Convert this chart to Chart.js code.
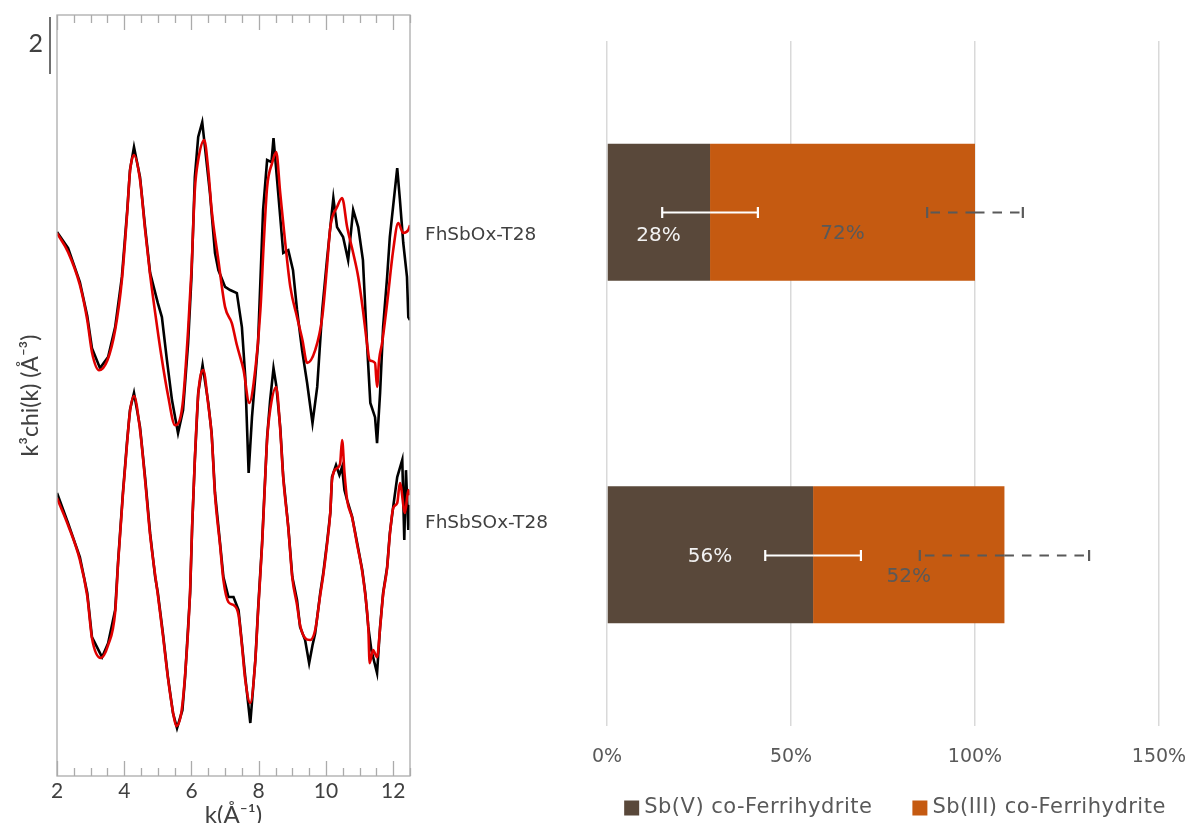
<!DOCTYPE html>
<html><head><meta charset="utf-8">
<script src="https://cdn.jsdelivr.net/npm/chart.js@4.4.1/dist/chart.umd.min.js"></script>
<style>
html,body{margin:0;padding:0;background:#fff;width:1191px;height:823px;overflow:hidden;}
#c1{position:absolute;left:0;top:0;}
#c2{position:absolute;left:420px;top:0;}
</style></head><body>
<canvas id="c1" width="420" height="823"></canvas>
<canvas id="c2" width="771" height="823"></canvas>
<script>
// ---------- Left panel: k3-weighted EXAFS spectra (data black, fit red) ----------
const K_MIN = 2, K_MAX = 12.5;
const Y_MIN = -17.05, Y_MAX = 9.65;
const SPECTRA_OFFSET = [0, -9];        // vertical stacking offset of the two samples
const SCALE_BAR = 2;                   // size of the y scale bar

const TOP_DATA = [[2.0,2.04],[2.33,1.47],[2.68,0.28],[2.9,-0.91],[3.04,-2.04],[3.28,-2.74],[3.52,-2.35],[3.73,-1.30],[3.93,0.46],[4.09,2.81],[4.17,4.21],[4.29,5.02],[4.47,3.96],[4.62,2.21],[4.77,0.60],[5.0,-0.46],[5.12,-0.95],[5.27,-2.46],[5.42,-3.86],[5.6,-5.02],[5.75,-4.21],[5.9,-1.86],[6.0,0.46],[6.1,3.96],[6.2,5.37],[6.32,5.89],[6.55,3.40],[6.7,1.30],[6.8,0.70],[7.0,0.11],[7.15,0.00],[7.35,-0.11],[7.5,-1.30],[7.6,-3.05],[7.7,-6.42],[7.8,-4.46],[7.98,-1.86],[8.13,2.81],[8.25,4.56],[8.38,4.49],[8.44,5.33],[8.58,3.40],[8.73,1.30],[8.88,1.40],[9.02,0.70],[9.14,-0.70],[9.29,-2.11],[9.44,-3.26],[9.6,-4.67],[9.74,-3.40],[9.89,-0.70],[10.03,1.05],[10.13,2.21],[10.22,3.23],[10.33,2.21],[10.51,1.86],[10.66,1.05],[10.81,2.81],[10.96,2.21],[11.1,1.05],[11.22,-1.86],[11.32,-3.96],[11.46,-4.46],[11.52,-5.37],[11.61,-3.61],[11.7,-1.30],[11.82,0.46],[11.9,1.86],[12.12,4.28],[12.2,3.16],[12.3,1.65],[12.41,0.46],[12.45,-0.95],[12.5,-1.05]];
const TOP_FIT = [[2.0,2.00],[2.33,1.33],[2.68,0.18],[2.9,-1.05],[3.04,-2.18],[3.25,-2.81],[3.5,-2.46],[3.73,-1.40],[3.93,0.35],[4.09,2.74],[4.17,4.14],[4.29,4.74],[4.47,3.86],[4.62,2.11],[4.77,0.53],[4.95,-1.05],[5.1,-2.28],[5.3,-3.68],[5.51,-4.74],[5.65,-4.56],[5.75,-3.86],[5.9,-1.40],[6.0,0.70],[6.1,3.51],[6.2,4.56],[6.38,5.26],[6.5,4.21],[6.6,2.81],[6.8,1.05],[7.0,-0.60],[7.2,-1.16],[7.35,-1.93],[7.55,-2.81],[7.72,-3.96],[7.85,-3.26],[8.05,-0.70],[8.15,1.65],[8.25,3.61],[8.4,4.46],[8.52,4.84],[8.64,3.40],[8.79,1.65],[8.94,0.11],[9.14,-0.95],[9.3,-1.75],[9.44,-2.56],[9.68,-2.11],[9.89,-0.95],[10.03,0.81],[10.13,2.21],[10.33,2.91],[10.48,3.23],[10.63,2.21],[10.81,1.30],[10.96,0.46],[11.1,-0.70],[11.22,-1.86],[11.3,-2.46],[11.46,-2.56],[11.52,-3.40],[11.58,-2.46],[11.67,-1.86],[11.82,-0.46],[12.0,1.40],[12.15,2.35],[12.3,2.00],[12.45,2.11],[12.5,2.28]];
const BOTTOM_DATA = [[2.0,1.88],[2.33,0.82],[2.68,-0.37],[2.9,-1.63],[3.04,-3.18],[3.34,-3.88],[3.52,-3.39],[3.73,-2.23],[3.82,-0.47],[3.96,1.88],[4.08,3.63],[4.17,4.79],[4.29,5.39],[4.47,4.19],[4.62,2.44],[4.77,0.47],[4.92,-1.07],[5.0,-1.63],[5.15,-3.04],[5.3,-4.58],[5.45,-5.84],[5.57,-6.37],[5.73,-5.74],[5.81,-4.58],[5.96,-1.63],[6.02,0.68],[6.1,3.04],[6.2,5.39],[6.33,6.37],[6.5,5.04],[6.6,3.98],[6.7,1.88],[6.85,0.12],[6.95,-1.07],[7.1,-1.77],[7.25,-1.77],[7.4,-2.23],[7.5,-3.39],[7.6,-4.58],[7.75,-6.19],[7.9,-3.98],[7.98,-2.23],[8.1,0.12],[8.17,1.88],[8.25,3.84],[8.34,5.14],[8.44,6.26],[8.52,5.67],[8.64,4.19],[8.73,2.44],[8.88,0.68],[9.0,-1.07],[9.14,-1.88],[9.23,-2.82],[9.38,-3.28],[9.5,-4.09],[9.6,-3.46],[9.68,-3.04],[9.83,-1.63],[9.92,-0.93],[10.03,0.12],[10.13,1.18],[10.18,2.44],[10.3,2.86],[10.4,2.51],[10.48,2.79],[10.55,1.98],[10.63,1.63],[10.78,1.04],[10.93,0.12],[11.08,-0.82],[11.17,-1.63],[11.26,-2.82],[11.35,-3.63],[11.52,-4.44],[11.61,-2.82],[11.7,-1.63],[11.82,-0.72],[11.9,0.47],[12.0,1.39],[12.12,2.44],[12.27,3.04],[12.33,0.23],[12.38,2.68],[12.45,0.58],[12.5,1.46]];
const BOTTOM_FIT = [[2.0,1.70],[2.33,0.75],[2.68,-0.47],[2.9,-1.74],[3.04,-3.21],[3.3,-3.91],[3.52,-3.46],[3.73,-2.30],[3.82,-0.54],[3.96,1.81],[4.08,3.56],[4.17,4.72],[4.29,5.28],[4.47,4.09],[4.62,2.33],[4.77,0.40],[4.92,-1.00],[5.0,-1.70],[5.15,-3.11],[5.3,-4.61],[5.45,-5.81],[5.55,-6.30],[5.7,-5.81],[5.81,-4.51],[5.96,-1.53],[6.02,0.75],[6.1,3.04],[6.2,5.32],[6.35,6.19],[6.5,4.96],[6.6,3.91],[6.7,1.81],[6.85,0.05],[6.95,-1.18],[7.1,-1.95],[7.25,-2.05],[7.4,-2.40],[7.5,-3.46],[7.6,-4.68],[7.75,-5.49],[7.9,-3.98],[7.98,-2.30],[8.1,0.05],[8.17,1.81],[8.25,3.74],[8.34,4.79],[8.52,5.60],[8.64,4.09],[8.73,2.40],[8.88,0.65],[9.0,-1.11],[9.14,-2.05],[9.23,-2.75],[9.38,-3.21],[9.53,-3.28],[9.68,-2.93],[9.83,-1.70],[9.92,-1.00],[10.03,0.05],[10.13,1.21],[10.18,2.33],[10.33,2.75],[10.42,2.90],[10.48,3.74],[10.55,2.60],[10.63,1.63],[10.78,1.00],[10.93,0.05],[11.08,-0.89],[11.17,-1.70],[11.26,-2.86],[11.3,-4.09],[11.4,-3.63],[11.52,-3.88],[11.61,-2.86],[11.7,-1.70],[11.82,-0.75],[11.9,0.40],[12.0,1.35],[12.12,1.53],[12.2,2.23],[12.35,1.18],[12.45,1.98],[12.5,1.81]];

// ---------- Right panel: linear combination fit fractions ----------
const SAMPLES = ['FhSbOx-T28', 'FhSbSOx-T28'];
const SERIES = ['Sb(V) co-Ferrihydrite', 'Sb(III) co-Ferrihydrite'];
const SB_V = [28, 56];
const SB_III = [72, 52];
const SB_V_ERR = [13, 13];
const SB_III_ERR = [13, 23];
const X_TICK_STEP = 50, X_MAX = 150;

const FONT = "Lato, 'Open Sans', sans-serif";
const FONT_R = "'DejaVu Sans', sans-serif";
const TXT = '#404040';

// ===== left chart =====
const toXY = (arr, off) => arr.map(p => ({x: p[0], y: p[1] + off}));
const leftPlugin = {
  id: 'leftFrame',
  afterDraw(chart) {
    const {ctx, chartArea: a, scales: {x, y}} = chart;
    ctx.save();
    ctx.strokeStyle = '#ABABAB';
    ctx.lineWidth = 1.3;
    ctx.strokeRect(a.left, a.top, a.right - a.left, a.bottom - a.top);
    for (let k = K_MIN; k <= K_MAX + 1e-9; k += 0.5) {
      const px = Math.round(x.getPixelForValue(k)) + 0.5;
      const major = Math.abs(k % 2) < 1e-9;
      const len = major ? 15 : 8;
      ctx.beginPath();
      ctx.moveTo(px, a.bottom); ctx.lineTo(px, a.bottom - len);
      ctx.moveTo(px, a.top); ctx.lineTo(px, a.top + len);
      ctx.stroke();
    }
    // scale bar
    const yTop = y.getPixelForValue(Y_MAX) + 2;
    const yBot = yTop + (y.getPixelForValue(0) - y.getPixelForValue(SCALE_BAR));
    ctx.strokeStyle = '#404040';
    ctx.lineWidth = 1.5;
    ctx.beginPath(); ctx.moveTo(a.left - 7, yTop); ctx.lineTo(a.left - 7, yBot); ctx.stroke();
    ctx.fillStyle = TXT;
    ctx.font = '25px ' + FONT;
    ctx.textAlign = 'right'; ctx.textBaseline = 'middle';
    ctx.fillText(String(SCALE_BAR), a.left - 14, (yTop + yBot) / 2 - 2);
    ctx.restore();
  }
};

new Chart(document.getElementById('c1'), {
  type: 'line',
  data: {
    datasets: [
      {label: 'FhSbOx-T28 data', data: toXY(TOP_DATA, SPECTRA_OFFSET[0]), borderColor: '#000000', order: 2},
      {label: 'FhSbOx-T28 fit', data: toXY(TOP_FIT, SPECTRA_OFFSET[0]), borderColor: '#E00000', order: 1, cubicInterpolationMode: 'monotone'},
      {label: 'FhSbSOx-T28 data', data: toXY(BOTTOM_DATA, SPECTRA_OFFSET[1]), borderColor: '#000000', order: 2},
      {label: 'FhSbSOx-T28 fit', data: toXY(BOTTOM_FIT, SPECTRA_OFFSET[1]), borderColor: '#E00000', order: 1, cubicInterpolationMode: 'monotone'}
    ]
  },
  options: {
    responsive: false, animation: false,
    layout: {padding: {top: 15, right: 10, left: 0, bottom: 0}},
    plugins: {legend: {display: false}, tooltip: {enabled: false}},
    elements: {point: {radius: 0}, line: {tension: 0, borderWidth: 2.6, fill: false}},
    scales: {
      x: {type: 'linear', min: K_MIN, max: K_MAX,
          grid: {display: false, drawTicks: false}, border: {display: false},
          ticks: {stepSize: 2, includeBounds: false, padding: 3, maxRotation: 0,
                  font: {family: FONT, size: 21}, color: TXT},
          title: {display: true, text: 'k(Å⁻¹)', color: TXT,
                  font: {family: FONT, size: 24, lineHeight: 1}, padding: {top: 0, bottom: -4}},
          afterFit: s => { s.height = 47; }},
      y: {type: 'linear', min: Y_MIN, max: Y_MAX,
          grid: {display: false, drawTicks: false}, border: {display: false}, ticks: {display: false},
          title: {display: true, text: 'k³chi(k) (Å⁻³)', color: TXT,
                  font: {family: FONT, size: 23, lineHeight: 1.2}, padding: {top: 17, bottom: 0}},
          afterFit: s => { s.width = 57; }}
    }
  },
  plugins: [leftPlugin]
});

// ===== right chart =====
const BAR_COLORS = ['#59483A', '#C55A11'];
const LABEL_STYLE = {
  colors: ['#F2F2F2', '#595959'],
  dy: [[24, 2], [22, 22]]          // per series, per sample
};
const ERR_STYLE = {colors: ['#FFFFFF', '#595959'], dash: [[], [9.5, 8]], cap: 5.5, width: 2.2};
const CAT_LABEL_STYLE = {dx: -182, dy: [23, -32]};

const rightPlugin = {
  id: 'rightExtras',
  afterDatasetsDraw(chart) {
    const {ctx, chartArea: a, scales: {x, y}} = chart;
    const vals = [SB_V, SB_III], errs = [SB_V_ERR, SB_III_ERR];
    ctx.save();
    // data labels
    ctx.font = '20px ' + FONT_R;
    ctx.textAlign = 'center'; ctx.textBaseline = 'middle';
    SAMPLES.forEach((s, i) => {
      let start = 0;
      vals.forEach((v, j) => {
        const x0 = x.getPixelForValue(start), x1 = x.getPixelForValue(start + v[i]);
        ctx.fillStyle = LABEL_STYLE.colors[j];
        ctx.fillText(v[i] + '%', (x0 + x1) / 2, y.getPixelForValue(i) + LABEL_STYLE.dy[j][i]);
        start += v[i];
      });
    });
    // error bars (drawn from the stacked end outward)
    SAMPLES.forEach((s, i) => {
      let end = 0;
      vals.forEach((v, j) => {
        end += v[i];
        const cy = Math.round(y.getPixelForValue(i)) + 0.5;
        const cx = x.getPixelForValue(end);
        ctx.strokeStyle = ERR_STYLE.colors[j];
        ctx.lineWidth = ERR_STYLE.width;
        [-1, 1].forEach(dir => {
          const ex = x.getPixelForValue(end + dir * errs[j][i]);
          ctx.setLineDash(ERR_STYLE.dash[j]);
          ctx.beginPath(); ctx.moveTo(cx, cy); ctx.lineTo(ex, cy); ctx.stroke();
          ctx.setLineDash([]);
          ctx.beginPath(); ctx.moveTo(ex, cy - ERR_STYLE.cap); ctx.lineTo(ex, cy + ERR_STYLE.cap); ctx.stroke();
        });
      });
    });
    ctx.restore();
  },
  afterDraw(chart) {
    const {ctx, chartArea: a, scales: {y}} = chart;
    ctx.save();
    // sample labels
    ctx.font = '18.5px ' + FONT_R;
    ctx.fillStyle = TXT;
    ctx.textAlign = 'left'; ctx.textBaseline = 'middle';
    SAMPLES.forEach((s, i) => ctx.fillText(s, a.left + CAT_LABEL_STYLE.dx, y.getPixelForValue(i) + CAT_LABEL_STYLE.dy[i]));
    // legend
    ctx.font = '21px ' + FONT_R;
    if ('letterSpacing' in ctx) ctx.letterSpacing = '0.5px';
    const box = 15, gapText = 5, gapItem = 40;
    const widths = SERIES.map(t => box + gapText + ctx.measureText(t).width);
    const total = widths.reduce((p, c) => p + c, 0) + gapItem * (SERIES.length - 1);
    let lx = (a.left + a.right) / 2 + 12 - total / 2;
    const ly = 808;
    SERIES.forEach((t, j) => {
      ctx.fillStyle = BAR_COLORS[j];
      ctx.fillRect(lx, ly - box / 2, box, box);
      ctx.fillStyle = '#595959';
      ctx.fillText(t, lx + box + gapText, ly);
      lx += widths[j] + gapItem;
    });
    ctx.restore();
  }
};

new Chart(document.getElementById('c2'), {
  type: 'bar',
  data: {
    labels: SAMPLES,
    datasets: [
      {label: SERIES[0], data: SB_V, backgroundColor: BAR_COLORS[0]},
      {label: SERIES[1], data: SB_III, backgroundColor: BAR_COLORS[1]}
    ]
  },
  options: {
    indexAxis: 'y', responsive: false, animation: false,
    layout: {padding: {left: 187, right: 32, top: 41, bottom: 0}},
    plugins: {legend: {display: false}, tooltip: {enabled: false}},
    datasets: {bar: {barPercentage: 0.4, categoryPercentage: 1.0}},
    scales: {
      x: {stacked: true, min: 0, max: X_MAX,
          ticks: {stepSize: X_TICK_STEP, callback: v => v + '%', padding: 20, maxRotation: 0,
                  font: {family: FONT_R, size: 19}, color: '#595959'},
          grid: {color: '#D9D9D9', lineWidth: 1.5, drawTicks: false},
          border: {display: false},
          afterFit: s => { s.height = 97; s.paddingLeft = 0; s.paddingRight = 0; }},
      y: {stacked: true, display: false}
    }
  },
  plugins: [rightPlugin]
});
</script>
</body></html>
